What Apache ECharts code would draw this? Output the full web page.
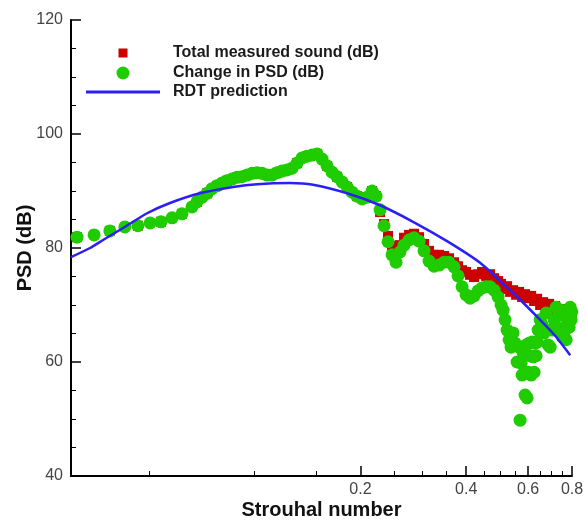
<!DOCTYPE html>
<html><head><meta charset="utf-8">
<script src="https://cdn.jsdelivr.net/npm/echarts@6/dist/echarts.min.js"></script>
<style>html,body{margin:0;padding:0;background:#fff}#c{width:585px;height:520px}</style>
</head><body><div id="c"></div>
<script>
// ---- data ----
const strouhalChange = [0.0312,0.0349,0.0387,0.0427,0.0465,0.0504,0.0541,0.0582,0.0621,0.0663,
0.0685,0.0708,0.0732,0.0756,0.0781,0.0807,0.0834,0.0862,0.0891,0.0920,0.0951,0.0983,0.1015,0.1049,0.1084,0.1120,0.1158,0.1196,0.1236,0.1277,0.1320,0.1364,0.1409,0.1456,0.1505,0.1555,0.1607,0.1660,0.1715,0.1773,0.1832,0.1893,0.1956,0.2021,0.2088,0.2158,
0.2215,0.2274,0.2334,0.2396,0.2460,0.2525,0.2592,0.2661,0.2750,0.2841,0.2936,0.3034,0.3135,0.3239,0.3347,0.3459,0.3574,0.3693,0.3791,0.3892,0.3995,0.4102,0.4211,0.4323,0.4437,0.4555,0.4676,0.4801,0.4928,
0.5026,0.5092,0.5160,0.5228,0.5297,0.5367,0.5438,0.5509,0.5582,0.5656,0.5693,0.5731,0.5769,0.5807,0.5845,0.5883,0.5922,0.5961,0.6000,0.6040,0.6080,0.6120,0.6160,0.6200,0.6241,0.6282,0.6324,0.6365,0.6407,0.6492,0.6578,0.6665,0.6753,0.6797,0.6842,0.6932,0.7024,0.7117,0.7211,0.7258,0.7354,0.7451,0.7500,0.7550,0.7650,0.7700,0.7751,0.7802,0.7853,0.7905,0.7957,0.7990];
const psdChange = [81.9,82.3,83.0,83.7,83.9,84.4,84.6,85.3,86.0,87.2,
88.1,88.9,89.6,90.4,90.9,91.4,91.8,92.1,92.4,92.5,92.8,93.1,93.2,93.1,92.8,92.8,93.2,93.5,93.7,94.0,94.9,95.8,96.1,96.3,96.5,95.6,94.4,93.3,92.5,91.6,90.7,89.8,89.1,88.6,88.9,90.0,
89.1,86.7,83.9,81.1,78.8,77.5,79.3,80.5,81.4,81.8,81.2,79.5,77.7,76.8,77.0,77.5,77.5,76.7,75.1,73.2,71.8,71.2,71.6,72.5,73.0,73.2,73.2,72.6,71.4,
70.0,69.1,67.4,65.6,63.9,62.6,65.1,63.3,60.0,62.6,49.8,59.8,57.7,61.6,58.1,54.2,63.0,53.7,58.2,63.3,61.1,57.7,63.5,60.9,58.2,63.3,61.1,63.5,65.6,67.4,66.5,65.1,68.6,65.6,63.0,62.6,65.6,67.4,69.6,66.1,68.2,69.1,64.4,68.6,65.6,63.9,67.4,68.6,66.1,69.6,67.4,68.8];

const strouhalTotal = [0.0312,0.0387,0.0465,0.0541,0.0621,0.0685,0.0732,0.0781,0.0834,0.0891,0.0951,0.1015,0.1084,0.1158,0.1236,0.1320,0.1409,0.1505,0.1607,0.1715,0.1832,0.1956,0.2088,0.2158,0.2215,
0.2274,0.2334,0.2396,0.2460,0.2525,0.2592,0.2661,0.2750,0.2841,0.2936,0.3034,0.3135,0.3239,0.3347,0.3459,0.3574,0.3693,0.3791,0.3892,0.3995,0.4102,0.4211,0.4323,0.4437,0.4555,0.4676,0.4801,0.4928,
0.5026,0.5126,0.5228,0.5332,0.5438,0.5546,0.5656,0.5769,0.5883,0.6000,0.6120,0.6241,0.6365,0.6492,0.6621,0.6753,0.6887,0.7024,0.7164,0.7306,0.7451,0.7600,0.7751,0.7905,0.7990];
const psdTotal = [81.9,83.0,83.9,84.6,86.0,88.1,89.6,90.9,91.8,92.4,92.8,93.2,92.8,93.2,93.7,94.9,96.1,96.5,94.4,92.5,90.7,89.1,88.9,90.0,89.1,
86.3,84.2,82.1,80.4,79.3,80.5,81.8,82.3,82.5,81.9,80.7,79.5,78.8,78.8,78.6,78.2,77.5,76.8,76.1,75.8,75.3,74.9,75.4,75.8,75.1,75.4,74.7,74.2,
73.7,72.8,73.3,72.3,72.6,71.8,72.3,71.4,71.9,71.2,71.6,70.7,71.1,70.0,70.5,69.6,70.2,69.3,69.8,68.8,69.3,68.2,68.9,67.7,68.4];

const strouhalRdt = [0.0300,0.0340,0.0370,0.0422,0.0494,0.0574,0.0699,0.0868,0.1015,0.1260,0.1466,0.1832,0.2274,0.2823,0.3527,0.4380,0.5438,0.6492,0.7164,0.7905];
const psdRdt = [78.4,80.0,81.4,83.5,86.1,87.9,89.6,90.7,91.2,91.4,91.1,89.6,87.5,84.6,81.2,77.4,72.1,67.4,64.6,61.2];

const xLabelTicks = [0.2,0.4,0.6,0.8];
const xMinorTicks = [0.05,0.1,0.15,0.25,0.3,0.35,0.45,0.5,0.55,0.65,0.7,0.75];
const yTicks = [40,60,80,100,120];
const seriesNames = ['Total measured sound (dB)','Change in PSD (dB)','RDT prediction'];

// ---- chart ----
const FONT = '"Liberation Sans", Arial, Helvetica, sans-serif';
const RED = '#cc0000', GREEN = '#1ecc00', BLUE = '#2a20f5';
const zip = (xs, ys) => xs.map((x, i) => [x, ys[i]]);
const legendText = pad => ({fontFamily: FONT, fontSize: 16, fontWeight: 'bold', color: '#1a1a1a', padding: [0, 0, 0, pad]});
const chart = echarts.init(document.getElementById('c'), null, {renderer: 'canvas'});
chart.setOption({
  animation: false,
  backgroundColor: '#fff',
  textStyle: {fontFamily: FONT},
  grid: {left: 71, right: 13, top: 20, bottom: 44, containLabel: false, outerBoundsMode: 'none'},
  legend: [
    {left: 118.5, top: 45, padding: 0, itemWidth: 9, itemHeight: 9, icon: 'rect', selectedMode: false,
     itemStyle: {color: RED, opacity: 1},
     data: [seriesNames[0]], textStyle: legendText(40.5)},
    {left: 116.5, top: 65, padding: 0, itemWidth: 13, itemHeight: 13, icon: 'circle', selectedMode: false,
     itemStyle: {color: GREEN, opacity: 1},
     data: [seriesNames[1]], textStyle: legendText(38.5)},
    {left: 86, top: 84, padding: 0, itemWidth: 74, itemHeight: 3, icon: 'rect', selectedMode: false,
     itemStyle: {color: BLUE, opacity: 1},
     data: [seriesNames[2]], textStyle: legendText(8)}
  ],
  xAxis: [
    {type: 'log', logBase: 10, min: 0.03, max: 0.8, position: 'bottom',
     axisLine: {show: true, lineStyle: {color: '#000', width: 2}},
     axisTick: {show: true, inside: true, length: 10, customValues: xLabelTicks, lineStyle: {color: '#000', width: 1.5}},
     axisLabel: {show: true, customValues: xLabelTicks, fontSize: 16, color: '#444', margin: 6,
                 formatter: v => String(+(+v).toPrecision(2))},
     splitLine: {show: false}, minorTick: {show: false},
     name: 'Strouhal number', nameLocation: 'middle', nameGap: 24, nameMoveOverlap: false,
     nameTextStyle: {fontSize: 20, fontWeight: 'bold', color: '#111', fontFamily: FONT}},
    {type: 'log', logBase: 10, min: 0.03, max: 0.8, position: 'bottom', offset: 0,
     axisLine: {show: false},
     axisTick: {show: true, inside: true, length: 5, customValues: xMinorTicks, lineStyle: {color: '#000', width: 1}},
     axisLabel: {show: false}, splitLine: {show: false}}
  ],
  yAxis: {type: 'value', min: yTicks[0], max: yTicks[yTicks.length - 1], interval: 20,
    axisLine: {show: true, lineStyle: {color: '#000', width: 2}},
    axisTick: {show: true, inside: true, length: 10, lineStyle: {color: '#000', width: 1.5}},
    minorTick: {show: true, splitNumber: 4, length: 5, lineStyle: {color: '#000', width: 1}},
    splitLine: {show: false},
    axisLabel: {fontSize: 16, color: '#444', margin: 8},
    name: 'PSD (dB)', nameLocation: 'middle', nameGap: 36, nameMoveOverlap: false,
    nameTextStyle: {fontSize: 20, fontWeight: 'bold', color: '#111', fontFamily: FONT}},
  series: [
    {name: seriesNames[0], type: 'scatter', xAxisIndex: 0, symbol: 'rect', symbolSize: 10,
     itemStyle: {color: RED, opacity: 1}, data: zip(strouhalTotal, psdTotal), z: 2},
    {name: seriesNames[1], type: 'scatter', xAxisIndex: 0, symbol: 'circle', symbolSize: 13,
     itemStyle: {color: GREEN, opacity: 1}, data: zip(strouhalChange, psdChange), z: 3},
    {name: seriesNames[2], type: 'line', xAxisIndex: 0, symbol: 'none', smooth: 0.2,
     lineStyle: {color: BLUE, width: 2.5}, itemStyle: {color: BLUE},
     data: zip(strouhalRdt, psdRdt), z: 4}
  ]
});
</script>
</body></html>
